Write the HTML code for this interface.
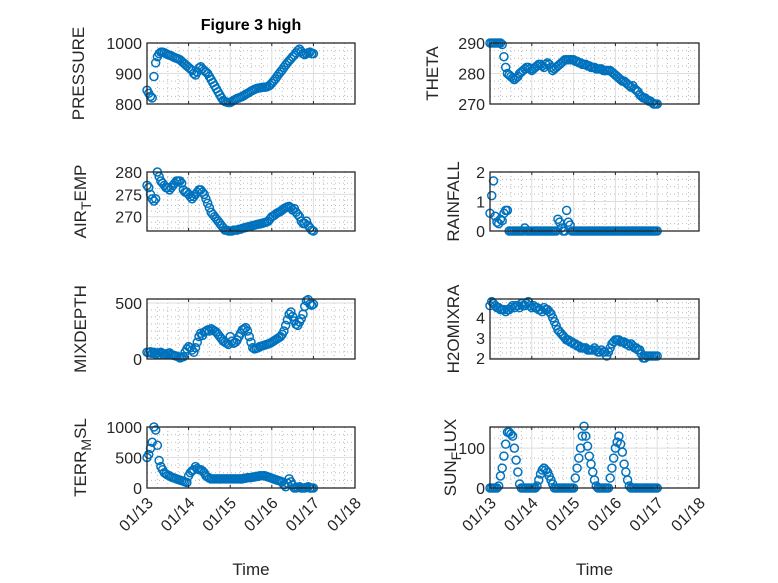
<!DOCTYPE html>
<html><head><meta charset="utf-8">
<style>
body{margin:0;background:#fff;}
svg{display:block;font-family:"Liberation Sans",sans-serif;}
</style></head>
<body>
<svg id="fig" width="778" height="583" viewBox="0 0 778 583">
<rect width="778" height="583" fill="#fff"/>
<text x="251" y="30" text-anchor="middle" font-weight="bold" font-size="16" fill="#000">Figure 3 high</text>
</svg>
<script>
const xTickLabels = ["01/13","01/14","01/15","01/16","01/17","01/18"];
const pressure = [845,835,825,820,890,935,955,965,970,970,968,965,962,960,958,955,952,950,948,945,940,935,930,925,
920,915,910,900,895,905,918,922,915,910,905,900,890,880,870,860,850,840,830,820,812,808,806,805,
805,808,812,815,818,820,822,825,828,832,835,838,842,845,848,850,852,853,854,855,855,856,858,862,
868,875,882,890,898,905,912,920,928,935,942,948,955,960,968,975,980,972,965,962,965,968,970,965,965];
const theta = [290,290,290,290,290,290,290,289.5,285.5,282,280,279.5,279,278.5,278,278.5,279,280,280.5,281,281.5,282,282,281.5,
281,281.5,282,282.5,283,283,282.5,282,283,283.5,283,282,281,281.5,282,282.5,283,283.5,284,284.5,284.5,284.5,284.5,284.5,
284.5,284,284,283.5,283.5,283,283,283,282.5,282.5,282,282,282,281.5,281.5,281.5,281.5,281,281,281,281,281,280.5,280,
279.5,279,278.5,278,277.5,277.5,277,276.5,276,275.5,276,275,274.5,274,273,272.5,272,272,271.5,271,271,270.5,270,270,270];
const airTemp = [277,276.5,275,274,273.5,274,280,279,278,277.5,277,276.5,276.5,276,276.5,277,277.5,278,278,278,277.5,276,275.5,275.5,
275,274.5,274,274.5,275,275.5,276,276,275.5,275,274,273,272,271,270.5,270,269.5,269,268.5,268,267.5,267,267,266.8,
266.8,266.8,267,267,267,267.2,267.2,267.4,267.5,267.6,267.7,267.8,267.9,268,268.1,268.2,268.3,268.4,268.5,268.6,268.7,268.8,269,269.5,
270,270.2,270.5,270.8,271,271.2,271.5,271.8,272,272.2,272.3,272,271.5,271.8,271,270.5,270,269,268.5,268.5,269,268,267.5,267,266.8];
const rainfall = [0.6,1.2,1.7,0.5,0.3,0.25,0.4,0.35,0.6,0.7,0.7,0,0,0,0,0,0,0,0,0,0.1,0,0,0,
0,0,0,0,0,0,0,0,0,0,0,0,0,0,0,0.4,0.3,0.1,0,0,0.7,0.3,0.2,0,
0,0,0,0,0,0,0,0,0,0,0,0,0,0,0,0,0,0,0,0,0,0,0,0,
0,0,0,0,0,0,0,0,0,0,0,0,0,0,0,0,0,0,0,0,0,0,0,0,0];
const mixDepth = [60,55,65,50,60,45,55,40,60,50,45,40,50,55,40,35,30,25,20,10,15,20,60,90,
110,100,80,60,100,150,200,230,210,240,250,260,250,270,260,250,240,220,200,180,160,150,140,130,
200,160,140,150,170,200,230,260,270,280,250,200,150,100,90,95,100,110,115,120,125,130,135,140,
150,160,170,180,190,200,220,250,300,350,400,420,380,340,310,300,330,360,400,470,520,530,490,480,490];
const h2oMix = [4.6,4.8,4.7,4.6,4.5,4.5,4.4,4.4,4.4,4.3,4.4,4.4,4.5,4.6,4.5,4.6,4.6,4.5,4.7,4.6,4.6,4.7,4.8,4.6,
4.5,4.6,4.5,4.5,4.4,4.4,4.3,4.5,4.4,4.4,4.3,4.2,4.0,3.8,3.6,3.4,3.3,3.2,3.1,3.0,2.9,2.9,2.8,2.8,
2.7,2.7,2.6,2.6,2.5,2.5,2.5,2.5,2.4,2.4,2.4,2.4,2.5,2.4,2.3,2.3,2.4,2.3,2.3,2.1,2.3,2.5,2.7,2.8,
2.9,2.9,2.9,2.8,2.8,2.8,2.7,2.7,2.6,2.7,2.6,2.5,2.5,2.4,2.4,2.2,2.0,2.0,2.1,2.1,2.1,2.1,2.1,2.1,2.1];
const terrMsl = [500,550,650,750,1000,950,700,450,350,300,250,230,210,200,180,170,160,150,140,130,120,110,100,90,
200,250,280,300,350,320,300,300,280,250,200,180,160,150,150,150,150,150,150,150,150,150,150,150,
150,150,150,150,150,150,150,150,160,160,170,170,170,180,180,190,190,200,200,200,200,190,180,170,
160,150,140,130,120,110,100,50,20,80,150,100,50,0,0,10,20,0,0,0,10,20,0,0,0];
const sunFlux = [0,0,0,0,0,5,30,50,80,110,140,140,135,130,100,70,40,10,0,0,0,0,0,0,
0,0,0,5,20,35,45,50,45,40,30,20,10,0,0,0,0,0,0,0,0,0,0,0,
0,25,50,75,100,130,155,130,105,80,60,40,20,5,0,0,0,0,0,0,0,25,50,75,
100,115,130,110,90,60,40,20,5,0,0,0,0,0,0,0,0,0,0,0,0,0,0,0,0];

const NS='http://www.w3.org/2000/svg';
const svg=document.getElementById('fig');
function mk(tag,attrs,parent){const e=document.createElementNS(NS,tag);for(const k in attrs)e.setAttribute(k,attrs[k]);(parent||svg).appendChild(e);return e;}

const colX=[[147,355],[490,699]];
const rowY=[[43,104],[172,231],[299,359],[427,488]];
const panels=[
 {name:'pressure',data:pressure,c:0,r:0,ymin:800,ymax:1000,ticks:[800,900,1000],minor:25,label:['PRESSURE'],lx:78},
 {name:'theta',data:theta,c:1,r:0,ymin:270,ymax:290,ticks:[270,280,290],minor:2.5,label:['THETA'],lx:432},
 {name:'air-temp',data:airTemp,c:0,r:1,ymin:266.8,ymax:280,ticks:[270,275,280],minor:1.25,label:['AIR','T','EMP'],lx:80},
 {name:'rainfall',data:rainfall,c:1,r:1,ymin:0,ymax:2,ticks:[0,1,2],minor:0.25,label:['RAINFALL'],lx:453},
 {name:'mixdepth',data:mixDepth,c:0,r:2,ymin:0,ymax:536,ticks:[0,500],minor:62.5,label:['MIXDEPTH'],lx:80},
 {name:'h2o-mix',data:h2oMix,c:1,r:2,ymin:1.95,ymax:4.93,ticks:[2,3,4],minor:0.25,label:['H2OMIXRA'],lx:453},
 {name:'terr-msl',data:terrMsl,c:0,r:3,ymin:0,ymax:1000,ticks:[0,500,1000],minor:125,label:['TERR','M','SL'],lx:80},
 {name:'sun-flux',data:sunFlux,c:1,r:3,ymin:0,ymax:153,ticks:[0,100],minor:25,label:['SUN','F','LUX'],lx:450}
];
panels.forEach(p=>{
 const [x0,x1]=colX[p.c],[y0,y1]=rowY[p.r];
 const g=mk('g',{});
 
 
 const xs=d=>x0+(x1-x0)*d/5;
 const ys=v=>y1-(y1-y0)*(v-p.ymin)/(p.ymax-p.ymin);
 mk('rect',{x:x0,y:y0,width:x1-x0,height:y1-y0,fill:'#fff'},g);
 for(let d=0;d<5;d+=0.25){if(Math.abs(d-Math.round(d))<1e-6)continue;mk('line',{x1:xs(d),x2:xs(d),y1:y0,y2:y1,stroke:'#bbb','stroke-width':1,'stroke-dasharray':'1 3'},g);}
 for(let v=Math.ceil(p.ymin/p.minor)*p.minor;v<p.ymax;v+=p.minor){if(p.ticks.some(t=>Math.abs(t-v)<1e-6))continue;mk('line',{x1:x0,x2:x1,y1:ys(v),y2:ys(v),stroke:'#bbb','stroke-width':1,'stroke-dasharray':'1 3'},g);}
 for(let d=1;d<5;d++)mk('line',{x1:xs(d),x2:xs(d),y1:y0,y2:y1,stroke:'#dedede','stroke-width':1},g);
 p.ticks.forEach(t=>{mk('line',{x1:x0,x2:x1,y1:ys(t),y2:ys(t),stroke:'#dedede','stroke-width':1},g);
  const tl=mk('text',{x:x0-5,y:ys(t)+6,'text-anchor':'end','font-size':16,fill:'#262626'},g);tl.textContent=t;
  
  
 });
 p.data.forEach((v,i)=>{const c=mk('circle',{cx:xs(i/24),cy:ys(v),r:4,fill:'none',stroke:'#0072BD','stroke-width':1.5},g);
  
  
 });
 mk('rect',{x:x0,y:y0,width:x1-x0,height:y1-y0,fill:'none',stroke:'#262626','stroke-width':1.3},g);
 for(let d=0;d<=5;d++){mk('line',{x1:xs(d),x2:xs(d),y1:y1,y2:y1-3,stroke:'#262626'},g);mk('line',{x1:xs(d),x2:xs(d),y1:y0,y2:y0+3,stroke:'#262626'},g);}
 const cy=(y0+y1)/2;
 const lb=mk('text',{x:0,y:0,'text-anchor':'middle','font-size':17,fill:'#262626',transform:`translate(${p.lx+6},${cy}) rotate(-90)`},g);
 
 
 if(p.label.length===1)lb.textContent=p.label[0];
 else{const a=mk('tspan',{},lb);a.textContent=p.label[0];const b=mk('tspan',{dy:5,'font-size':14},lb);b.textContent=p.label[1];const c=mk('tspan',{dy:-5},lb);c.textContent=p.label[2];}
 if(p.r===3){
  xTickLabels.forEach((s,d)=>{const t=mk('text',{x:0,y:0,'text-anchor':'end','font-size':16,fill:'#262626',transform:`translate(${xs(d)+7},${y1+16}) rotate(-45)`},g);t.textContent=s;
   
   
  });
  const tt=mk('text',{x:(x0+x1)/2,y:575,'text-anchor':'middle','font-size':17,fill:'#262626'},g);tt.textContent='Time';
  
  
 }
});
</script>
</body></html>
